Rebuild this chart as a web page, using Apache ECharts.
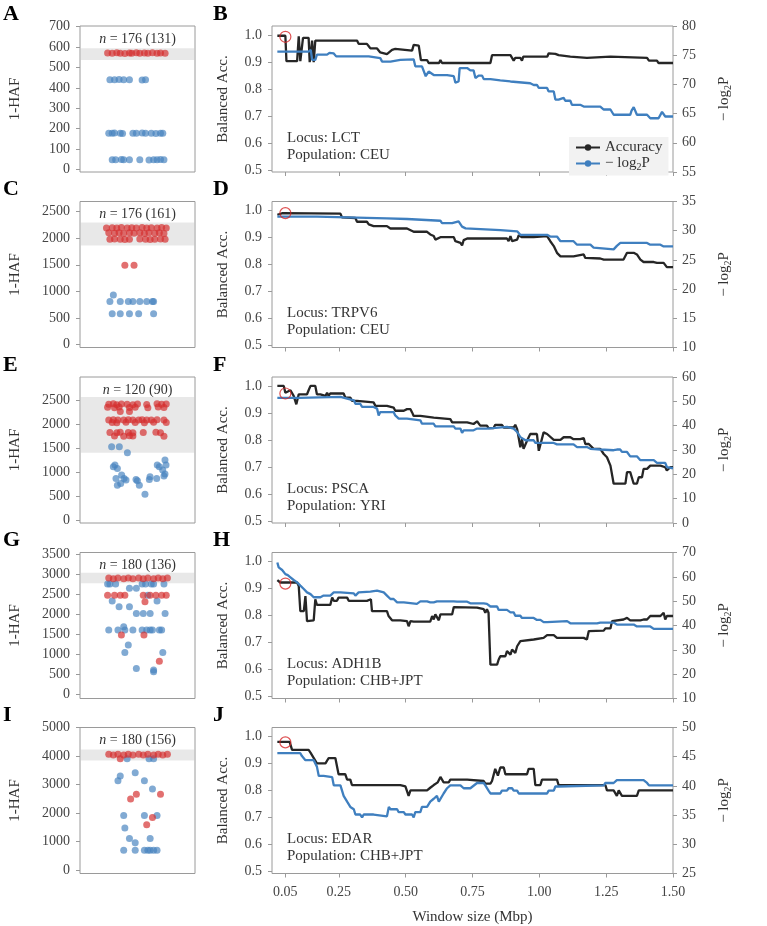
<!DOCTYPE html>
<html><head><meta charset="utf-8">
<script src="https://cdn.jsdelivr.net/npm/echarts@6/dist/echarts.min.js"></script>
<style>html,body{margin:0;padding:0;background:#fff}#c{width:767px;height:926px}</style>
</head><body><div id="c"></div><script>
// ---------------- DATA ----------------
const windowTicks = [0.05, 0.25, 0.5, 0.75, 1.0, 1.25, 1.5];
const accTicks = [0.5, 0.6, 0.7, 0.8, 0.9, 1.0];

const nlpTicksB = [55, 60, 65, 70, 75, 80];
const nlpTicksD = [10, 15, 20, 25, 30, 35];
const nlpTicksF = [0, 10, 20, 30, 40, 50, 60];
const nlpTicksH = [10, 20, 30, 40, 50, 60, 70];
const nlpTicksJ = [25, 30, 35, 40, 45, 50];

const hafTicksA = [0, 100, 200, 300, 400, 500, 600, 700];
const hafTicksC = [0, 500, 1000, 1500, 2000, 2500];
const hafTicksE = [0, 500, 1000, 1500, 2000, 2500];
const hafTicksG = [0, 500, 1000, 1500, 2000, 2500, 3000, 3500];
const hafTicksI = [0, 1000, 2000, 3000, 4000, 5000];

const loci = ['LCT', 'TRPV6', 'PSCA', 'ADH1B', 'EDAR'];
const pops = ['CEU', 'CEU', 'YRI', 'CHB+JPT', 'CHB+JPT'];
const sampleN = ['176 (131)', '176 (161)', '120 (90)', '180 (136)', '180 (156)'];

const bandA = [537, 594];
const bandC = [1862, 2293];
const bandE = [1410, 2570];
const bandG = [2768, 3032];
const bandI = [3845, 4226];

const bestLCT = [0.05, 0.993];
const bestTRPV6 = [0.05, 0.99];
const bestPSCA = [0.05, 0.972];
const bestADH1B = [0.05, 0.918];
const bestEDAR = [0.05, 0.978];

// Panel B: LCT
const accLCT = [[0.02,0.997],[0.05,0.997],[0.054,0.903],[0.094,0.903],[0.100,0.995],[0.106,0.903],[0.116,0.989],[0.137,0.989],[0.141,0.899],[0.150,0.979],[0.156,0.899],[0.162,0.979],[0.318,0.979],[0.324,0.967],[0.355,0.967],[0.362,0.958],[0.368,0.950],[0.393,0.950],[0.405,0.935],[0.430,0.929],[0.437,0.926],[0.449,0.945],[0.461,0.948],[0.468,0.942],[0.524,0.942],[0.530,0.963],[0.549,0.960],[0.557,0.907],[0.580,0.907],[0.586,0.896],[0.625,0.896],[0.630,0.907],[0.636,0.896],[0.817,0.896],[0.823,0.925],[0.892,0.925],[0.898,0.915],[0.904,0.905],[0.91,0.915],[0.929,0.915],[0.935,0.905],[0.94,0.92],[1.03,0.92],[1.035,0.932],[1.06,0.930],[1.065,0.936],[1.072,0.925],[1.116,0.920],[1.122,0.915],[1.178,0.915],[1.185,0.920],[1.266,0.920],[1.272,0.915],[1.403,0.915],[1.41,0.905],[1.44,0.905],[1.446,0.896],[1.5,0.896]];
const nlpLCT = [[0.02,75.6],[0.137,75.6],[0.145,75.9],[0.150,74.2],[0.162,74.2],[0.168,75.1],[0.206,75.1],[0.215,75.4],[0.231,75.3],[0.24,74.8],[0.362,74.8],[0.368,74.5],[0.405,74.5],[0.412,73.9],[0.443,73.9],[0.449,74.2],[0.480,74.2],[0.530,74.3],[0.536,73.1],[0.561,73.1],[0.567,72.8],[0.575,71.4],[0.580,71.4],[0.586,72.2],[0.592,72.0],[0.605,71.6],[0.655,71.6],[0.661,71.4],[0.680,71.4],[0.686,70.3],[0.698,70.5],[0.702,72.8],[0.730,72.8],[0.742,72.4],[0.754,72.4],[0.761,71.1],[0.773,71.5],[0.786,71.5],[0.792,70.9],[0.817,70.9],[0.823,70.7],[0.854,70.7],[0.892,70.5],[0.898,70.2],[0.966,70.2],[0.979,69.9],[0.991,69.9],[0.998,69.4],[1.029,69.4],[1.035,68.8],[1.054,68.8],[1.060,67.4],[1.072,67.4],[1.079,67.7],[1.091,67.7],[1.097,67.2],[1.116,67.2],[1.122,66.5],[1.153,66.5],[1.166,66.2],[1.228,66.2],[1.241,65.7],[1.266,65.7],[1.278,64.8],[1.340,64.8],[1.345,65.5],[1.353,66.1],[1.365,64.8],[1.403,64.8],[1.415,64.2],[1.446,64.2],[1.459,65.3],[1.471,64.5],[1.5,64.5]];

// Panel D: TRPV6
const accTRPV6 = [[0.02,0.984],[0.04,0.99],[0.256,0.988],[0.262,0.974],[0.312,0.972],[0.318,0.958],[0.355,0.958],[0.362,0.948],[0.380,0.942],[0.430,0.942],[0.443,0.933],[0.505,0.933],[0.530,0.921],[0.580,0.921],[0.592,0.911],[0.605,0.905],[0.611,0.892],[0.630,0.901],[0.680,0.901],[0.686,0.886],[0.705,0.880],[0.711,0.870],[0.717,0.890],[0.730,0.896],[0.879,0.896],[0.885,0.886],[0.892,0.905],[0.898,0.886],[0.904,0.880],[0.917,0.892],[0.923,0.908],[0.935,0.901],[0.979,0.901],[1.029,0.905],[1.041,0.886],[1.054,0.868],[1.066,0.843],[1.079,0.830],[1.128,0.830],[1.135,0.837],[1.166,0.837],[1.172,0.824],[1.178,0.822],[1.228,0.822],[1.241,0.818],[1.315,0.818],[1.328,0.843],[1.353,0.843],[1.365,0.837],[1.378,0.818],[1.390,0.809],[1.428,0.809],[1.440,0.806],[1.465,0.806],[1.477,0.790],[1.5,0.790]];
const nlpTRPV6 = [[0.02,32.4],[0.168,32.4],[0.175,32.1],[0.430,32.1],[0.437,32.0],[0.505,32.0],[0.511,31.7],[0.630,31.7],[0.636,31.3],[0.674,31.3],[0.680,31.6],[0.698,31.6],[0.711,30.7],[0.724,30.4],[0.730,30.1],[0.854,30.1],[0.86,29.9],[0.917,29.9],[0.929,29.3],[1.029,29.3],[1.041,29.0],[1.066,29.0],[1.079,28.2],[1.128,28.2],[1.141,27.6],[1.191,27.6],[1.203,27.1],[1.278,26.8],[1.290,27.4],[1.303,27.9],[1.403,27.9],[1.415,27.6],[1.453,27.6],[1.465,27.3],[1.5,27.3]];

// Panel F: PSCA
const accPSCA = [[0.02,1.0],[0.044,1.0],[0.05,0.975],[0.056,0.975],[0.069,0.984],[0.081,0.963],[0.091,0.932],[0.1,0.969],[0.131,0.969],[0.137,0.984],[0.144,1.0],[0.162,1.0],[0.168,0.969],[0.181,0.969],[0.187,0.963],[0.2,0.963],[0.206,0.975],[0.212,0.963],[0.218,0.972],[0.268,0.972],[0.274,0.957],[0.293,0.957],[0.299,0.945],[0.318,0.945],[0.324,0.939],[0.380,0.939],[0.387,0.926],[0.430,0.926],[0.437,0.920],[0.455,0.920],[0.461,0.908],[0.493,0.908],[0.505,0.914],[0.518,0.914],[0.524,0.902],[0.530,0.889],[0.555,0.889],[0.561,0.883],[0.605,0.883],[0.611,0.877],[0.667,0.877],[0.674,0.865],[0.730,0.865],[0.736,0.859],[0.754,0.859],[0.767,0.869],[0.779,0.853],[0.804,0.853],[0.810,0.844],[0.829,0.844],[0.835,0.856],[0.860,0.856],[0.867,0.846],[0.904,0.846],[0.910,0.856],[0.917,0.840],[0.929,0.773],[0.935,0.803],[0.941,0.767],[0.954,0.797],[0.966,0.822],[0.991,0.822],[0.998,0.760],[1.016,0.828],[1.029,0.822],[1.054,0.80],[1.079,0.80],[1.091,0.810],[1.116,0.810],[1.128,0.803],[1.153,0.803],[1.166,0.807],[1.172,0.785],[1.185,0.785],[1.191,0.791],[1.203,0.767],[1.228,0.767],[1.241,0.748],[1.253,0.736],[1.266,0.705],[1.278,0.638],[1.322,0.638],[1.328,0.681],[1.340,0.681],[1.353,0.638],[1.365,0.638],[1.372,0.662],[1.384,0.662],[1.390,0.693],[1.403,0.693],[1.415,0.705],[1.453,0.705],[1.459,0.699],[1.471,0.699],[1.477,0.687],[1.490,0.699],[1.5,0.699]];
const nlpPSCA = [[0.02,51.4],[0.1,51.4],[0.106,51.8],[0.256,51.8],[0.281,51.1],[0.287,50.4],[0.306,50.4],[0.312,49.0],[0.330,49.0],[0.337,47.7],[0.380,47.7],[0.393,47.0],[0.399,44.2],[0.405,45.6],[0.455,45.6],[0.461,44.2],[0.468,44.2],[0.474,42.9],[0.505,42.9],[0.511,42.2],[0.555,42.2],[0.561,40.8],[0.605,40.8],[0.611,39.7],[0.680,39.7],[0.686,38.8],[0.705,38.8],[0.711,37.0],[0.717,38.1],[0.754,38.1],[0.761,37.4],[0.767,38.8],[0.804,38.8],[0.810,39.5],[0.879,39.5],[0.885,38.8],[0.904,38.8],[0.917,37.4],[0.929,35.3],[0.948,34.0],[0.979,34.0],[0.985,32.9],[1.054,32.9],[1.066,32.3],[1.128,32.3],[1.141,31.2],[1.178,31.2],[1.191,30.5],[1.228,30.2],[1.278,29.9],[1.290,30.2],[1.303,30.2],[1.309,29.2],[1.328,29.2],[1.340,27.4],[1.365,27.4],[1.378,25.8],[1.428,25.8],[1.440,24.7],[1.471,24.7],[1.477,23.0],[1.5,22.5]];

// Panel H: ADH1B
const accADH1B = [[0.02,0.931],[0.031,0.922],[0.094,0.922],[0.100,0.909],[0.106,0.816],[0.119,0.816],[0.125,0.872],[0.131,0.779],[0.156,0.782],[0.162,0.860],[0.168,0.839],[0.218,0.839],[0.225,0.866],[0.231,0.854],[0.243,0.854],[0.249,0.866],[0.281,0.866],[0.287,0.854],[0.355,0.854],[0.362,0.851],[0.370,0.860],[0.374,0.816],[0.380,0.810],[0.393,0.816],[0.430,0.816],[0.436,0.798],[0.443,0.804],[0.449,0.782],[0.480,0.782],[0.505,0.779],[0.511,0.760],[0.518,0.779],[0.530,0.777],[0.592,0.777],[0.599,0.798],[0.605,0.785],[0.611,0.804],[0.624,0.782],[0.630,0.804],[0.674,0.804],[0.680,0.831],[0.767,0.829],[0.773,0.823],[0.792,0.823],[0.798,0.810],[0.804,0.823],[0.810,0.810],[0.817,0.618],[0.842,0.618],[0.848,0.637],[0.854,0.649],[0.873,0.649],[0.879,0.668],[0.892,0.655],[0.898,0.674],[0.910,0.661],[0.917,0.686],[0.929,0.705],[0.935,0.711],[0.979,0.711],[0.985,0.717],[1.016,0.717],[1.029,0.727],[1.054,0.727],[1.066,0.717],[1.091,0.717],[1.097,0.711],[1.104,0.717],[1.166,0.717],[1.178,0.711],[1.185,0.742],[1.241,0.744],[1.247,0.752],[1.266,0.752],[1.272,0.779],[1.315,0.785],[1.328,0.791],[1.340,0.782],[1.378,0.782],[1.390,0.785],[1.403,0.785],[1.415,0.798],[1.453,0.798],[1.465,0.810],[1.471,0.785],[1.477,0.798],[1.5,0.798]];
const nlpADH1B = [[0.02,65.9],[0.025,63.9],[0.038,62.8],[0.05,61.1],[0.059,60.7],[0.065,61.5],[0.069,59.8],[0.081,58.7],[0.094,57.7],[0.106,56.4],[0.119,55.0],[0.131,53.6],[0.144,52.9],[0.156,51.6],[0.181,51.6],[0.193,52.3],[0.218,52.3],[0.231,53.6],[0.256,53.6],[0.262,53.2],[0.306,53.2],[0.312,52.3],[0.318,51.6],[0.324,53.6],[0.330,53.9],[0.368,53.9],[0.374,54.3],[0.393,54.3],[0.399,53.6],[0.418,53.6],[0.430,52.3],[0.443,50.9],[0.455,50.9],[0.468,49.5],[0.493,49.5],[0.499,48.9],[0.542,48.9],[0.555,49.9],[0.580,49.9],[0.592,49.5],[0.605,49.5],[0.617,49.9],[0.680,49.9],[0.692,49.8],[0.730,49.8],[0.742,49.1],[0.792,49.1],[0.804,48.9],[0.817,47.8],[0.842,47.8],[0.848,46.4],[0.879,46.4],[0.892,45.4],[0.904,45.4],[0.910,44.0],[0.929,44.0],[0.935,43.1],[0.979,43.1],[0.991,42.3],[1.004,42.3],[1.016,41.4],[1.029,41.4],[1.035,41.8],[1.104,41.8],[1.116,40.9],[1.216,40.9],[1.228,41.2],[1.278,41.2],[1.290,40.4],[1.353,40.4],[1.365,39.6],[1.415,39.6],[1.428,38.6],[1.5,38.6]];

// Panel J: EDAR
const accEDAR = [[0.02,0.98],[0.066,0.98],[0.075,0.95],[0.137,0.95],[0.144,0.94],[0.168,0.90],[0.2,0.90],[0.212,0.92],[0.237,0.92],[0.249,0.86],[0.274,0.86],[0.281,0.84],[0.293,0.84],[0.299,0.82],[0.48,0.82],[0.499,0.815],[0.505,0.82],[0.511,0.78],[0.518,0.80],[0.580,0.80],[0.592,0.81],[0.605,0.82],[0.620,0.83],[0.630,0.85],[0.642,0.83],[0.661,0.83],[0.667,0.84],[0.730,0.84],[0.736,0.835],[0.792,0.835],[0.798,0.825],[0.817,0.825],[0.823,0.835],[0.835,0.88],[0.845,0.855],[0.854,0.885],[0.867,0.885],[0.873,0.86],[0.954,0.86],[0.960,0.88],[0.979,0.88],[0.985,0.82],[1.004,0.82],[1.010,0.84],[1.066,0.84],[1.072,0.82],[1.247,0.82],[1.253,0.80],[1.278,0.80],[1.290,0.78],[1.297,0.80],[1.309,0.78],[1.365,0.78],[1.372,0.80],[1.5,0.80]];
const nlpEDAR = [[0.02,45.6],[0.106,45.6],[0.112,45.1],[0.125,44.4],[0.156,44.4],[0.168,43.3],[0.175,41.7],[0.193,41.7],[0.2,41.5],[0.225,41.5],[0.231,40.1],[0.256,40.1],[0.262,39.2],[0.268,38.3],[0.281,37.3],[0.293,36.4],[0.306,36.0],[0.312,35.1],[0.330,35.1],[0.337,34.6],[0.343,35.1],[0.380,35.1],[0.387,34.8],[0.430,34.8],[0.437,36.4],[0.443,36.0],[0.468,36.0],[0.474,35.5],[0.493,35.5],[0.499,35.1],[0.524,35.1],[0.530,34.6],[0.536,35.5],[0.555,35.5],[0.561,36.4],[0.580,36.4],[0.592,37.3],[0.605,37.8],[0.617,38.3],[0.624,37.3],[0.642,38.7],[0.655,39.6],[0.667,40.1],[0.705,40.1],[0.717,39.6],[0.742,39.6],[0.767,40.5],[0.792,40.5],[0.798,40.1],[0.804,40.1],[0.810,39.2],[0.817,38.7],[0.854,38.7],[0.860,39.2],[0.879,39.2],[0.885,39.6],[0.898,39.6],[0.904,39.2],[0.917,39.2],[0.923,38.7],[0.973,38.7],[0.979,38.5],[0.991,38.7],[1.029,38.7],[1.035,39.2],[1.054,39.2],[1.060,39.9],[1.072,39.9],[1.079,40.1],[1.241,40.1],[1.247,40.5],[1.278,40.5],[1.290,41.0],[1.390,41.0],[1.403,40.5],[1.410,40.1],[1.5,40.1]];

// Strip plots: [jitter offset from category centre, 1-HAF]
const hafRedA = [[-0.26,571],[-0.22,569],[-0.18,572],[-0.15,570],[-0.11,568],[-0.07,571],[-0.05,570],[-0.01,572],[0.02,569],[0.06,571],[0.09,570],[0.13,572],[0.17,569],[0.20,571],[0.24,570]];
const hafBlueA = [[-0.24,440],[-0.20,440],[-0.16,441],[-0.12,440],[-0.07,440],[0.04,439],[0.07,440],[-0.25,178],[-0.22,178],[-0.20,179],[-0.15,178],[-0.13,177],[-0.04,178],[-0.01,178],[0.04,179],[0.07,178],[0.12,178],[0.16,177],[0.20,178],[0.22,178],[-0.22,48],[-0.19,48],[-0.14,49],[-0.12,48],[-0.07,48],[0.02,48],[0.10,47],[0.14,48],[0.17,48],[0.20,49],[0.23,48]];
const hafRedC = [[-0.27,2190],[-0.22,2195],[-0.18,2190],[-0.14,2200],[-0.09,2190],[-0.05,2195],[-0.01,2190],[0.04,2200],[0.08,2190],[0.12,2195],[0.17,2190],[0.21,2200],[0.25,2190],[-0.25,2100],[-0.20,2095],[-0.16,2100],[-0.12,2090],[-0.07,2100],[-0.03,2095],[0.02,2100],[0.06,2090],[0.10,2100],[0.15,2095],[0.19,2100],[0.23,2090],[-0.24,1980],[-0.20,1985],[-0.15,1980],[-0.11,1975],[-0.07,1980],[0.02,1985],[0.07,1980],[0.11,1975],[0.15,1980],[0.20,1985],[0.24,1980],[-0.11,1490],[-0.03,1490]];
const hafBlueC = [[-0.21,930],[-0.24,810],[-0.15,810],[-0.08,810],[-0.04,810],[0.02,810],[0.08,810],[0.13,810],[0.14,810],[-0.22,580],[-0.15,580],[-0.07,580],[0.01,580],[0.14,580]];
const hafRedE = [[-0.25,2420],[-0.21,2430],[-0.18,2410],[-0.14,2425],[-0.09,2420],[-0.04,2410],[0.00,2425],[0.08,2415],[0.17,2430],[0.21,2420],[0.25,2425],[-0.26,2360],[-0.20,2350],[-0.16,2365],[-0.07,2355],[-0.02,2360],[0.09,2350],[0.18,2365],[0.23,2355],[-0.15,2270],[-0.07,2270],[-0.25,2095],[-0.21,2100],[-0.17,2090],[-0.12,2095],[-0.08,2100],[-0.04,2090],[0.01,2095],[0.04,2100],[0.08,2090],[0.12,2095],[0.17,2100],[0.23,2090],[-0.22,2040],[-0.18,2035],[-0.10,2045],[-0.02,2040],[0.06,2035],[0.14,2045],[0.25,2040],[-0.24,1830],[-0.18,1825],[-0.15,1835],[-0.08,1830],[-0.04,1825],[0.05,1830],[0.16,1835],[0.20,1825],[-0.20,1760],[-0.12,1755],[-0.07,1765],[-0.04,1760],[0.23,1755]];
const hafBlueE = [[-0.225,1536],[-0.158,1536],[-0.088,1410],[-0.21,1117],[-0.196,1152],[-0.175,1082],[-0.187,873],[-0.138,943],[-0.117,873],[-0.10,838],[-0.175,733],[-0.146,768],[-0.013,852],[-0.001,824],[0.016,733],[0.065,545],[0.103,852],[0.109,908],[0.172,1152],[0.19,1117],[0.219,1047],[0.23,922],[0.239,1257],[0.248,1152],[0.167,873],[0.239,964]];
const hafRedG = [[-0.25,2900],[-0.21,2880],[-0.17,2900],[-0.12,2880],[-0.08,2900],[-0.04,2880],[0.01,2900],[0.05,2880],[0.09,2900],[0.14,2880],[0.18,2900],[0.22,2880],[0.26,2900],[-0.26,2469],[-0.20,2469],[-0.15,2469],[-0.11,2469],[0.05,2469],[0.11,2469],[0.16,2469],[0.21,2469],[0.25,2469],[0.065,2311],[-0.14,1480],[0.056,1480],[0.19,831]];
const hafBlueG = [[-0.26,2752],[-0.24,2752],[-0.19,2752],[0.04,2752],[0.07,2752],[0.12,2752],[0.14,2752],[0.23,2752],[-0.07,2644],[-0.01,2644],[0.09,2469],[-0.22,2328],[0.17,2328],[-0.16,2187],[-0.07,2187],[-0.01,2020],[0.05,2020],[0.11,2020],[0.24,2020],[-0.25,1605],[-0.17,1605],[-0.11,1605],[-0.04,1605],[0.04,1605],[0.08,1605],[0.11,1605],[0.13,1605],[0.19,1605],[0.21,1605],[-0.12,1688],[-0.08,1230],[-0.11,1048],[0.22,1048],[-0.01,648],[0.14,607],[0.14,565]];
const hafRedI = [[-0.25,4060],[-0.21,4040],[-0.17,4060],[-0.12,4040],[-0.08,4060],[-0.04,4040],[0.01,4060],[0.05,4040],[0.09,4060],[0.14,4040],[0.18,4060],[0.22,4040],[0.26,4060],[-0.15,3903],[-0.01,2656],[0.20,2656],[-0.06,2494],[0.13,1848],[0.08,1594]];
const hafBlueI = [[-0.09,3903],[0.10,3903],[0.14,3903],[-0.02,3418],[-0.15,3302],[-0.17,3129],[0.06,3129],[0.13,2841],[-0.12,1917],[0.06,1917],[0.17,1917],[-0.11,1478],[-0.07,1109],[0.11,1109],[-0.02,958],[-0.12,693],[-0.02,693],[0.06,693],[0.09,693],[0.11,693],[0.14,693],[0.17,693]];

// ---------------- LAYOUT / STYLE ----------------
const FONT = "'Liberation Serif', 'DejaVu Serif', serif";
const TXT = '#333';
const TICKC = '#444';
const SPINE = '#9a9a9a';
const BLACK = '#262626';
const BLUE = '#3f7fbf';
const RED_PT = 'rgba(212,46,46,0.85)';
const BLUE_PT = 'rgba(70,130,190,0.85)';
const TOPS = [26, 201.5, 377, 552.5, 727.5];
const H = 146;
const CENTRE = 0.5; // strip category centre on a 0..1 axis

const panels = [
  {L:'A', R:'B', hafMin:-12, hafMax:703, hafTicks:hafTicksA, band:bandA, red:hafRedA, blue:hafBlueA, acc:accLCT, nlp:nlpLCT, nlpMin:55, nlpMax:80, nlpTicks:nlpTicksB, best:bestLCT},
  {L:'C', R:'D', hafMin:-56, hafMax:2690, hafTicks:hafTicksC, band:bandC, red:hafRedC, blue:hafBlueC, acc:accTRPV6, nlp:nlpTRPV6, nlpMin:10, nlpMax:35, nlpTicks:nlpTicksD, best:bestTRPV6},
  {L:'E', R:'F', hafMin:-57, hafMax:2990, hafTicks:hafTicksE, band:bandE, red:hafRedE, blue:hafBlueE, acc:accPSCA, nlp:nlpPSCA, nlpMin:0, nlpMax:60, nlpTicks:nlpTicksF, best:bestPSCA},
  {L:'G', R:'H', hafMin:-100, hafMax:3537, hafTicks:hafTicksG, band:bandG, red:hafRedG, blue:hafBlueG, acc:accADH1B, nlp:nlpADH1B, nlpMin:10, nlpMax:70, nlpTicks:nlpTicksH, best:bestADH1B},
  {L:'I', R:'J', hafMin:-118, hafMax:5000, hafTicks:hafTicksI, band:bandI, red:hafRedI, blue:hafBlueI, acc:accEDAR, nlp:nlpEDAR, nlpMin:25, nlpMax:50, nlpTicks:nlpTicksJ, best:bestEDAR}
];

const tickLabel = {color: TICKC, fontFamily: FONT, fontSize: 14};
const nameStyle = {color: TXT, fontFamily: FONT, fontSize: 15};
const subRich = {
  a: {fontFamily: FONT, fontSize: 15, color: TXT, lineHeight: 18},
  s: {fontFamily: FONT, fontSize: 10, color: TXT, lineHeight: 8, verticalAlign: 'bottom'}
};
const tick = (vals) => ({show: true, inside: false, customValues: vals, length: 4, lineStyle: {color: SPINE}});
const strip = (arr) => arr.map(d => [CENTRE + d[0], d[1]]);

const grid = [], xAxis = [], yAxis = [], series = [], graphic = [];
panels.forEach((p, i) => {
  const top = TOPS[i];
  const last = i === panels.length - 1;
  grid.push({left: 80, top: top, width: 115, height: H, show: true, borderColor: SPINE, borderWidth: 1, backgroundColor: 'transparent'});
  grid.push({left: 272, top: top, width: 401, height: H, show: true, borderColor: SPINE, borderWidth: 1, backgroundColor: 'transparent'});
  xAxis.push({gridIndex: 2*i, type: 'value', min: 0, max: 1, show: false});
  const wx = {gridIndex: 2*i+1, type: 'value', min: 0, max: 1.5,
    axisLine: {show: false}, splitLine: {show: false},
    axisTick: tick(windowTicks),
    axisLabel: {customValues: windowTicks, formatter: v => v.toFixed(2), margin: 12, ...tickLabel,
      color: last ? TICKC : 'rgba(0,0,0,0)'}};
  if (last) Object.assign(wx, {name: 'Window size (Mbp)', nameLocation: 'middle', nameGap: 36, nameTextStyle: nameStyle});
  xAxis.push(wx);
  yAxis.push({gridIndex: 2*i, type: 'value', min: p.hafMin, max: p.hafMax,
    axisLine: {show: false}, splitLine: {show: false},
    axisTick: tick(p.hafTicks),
    axisLabel: {customValues: p.hafTicks, formatter: v => String(Math.round(v)), margin: 10, ...tickLabel},
    name: '1-HAF', nameLocation: 'middle', nameGap: 57, nameRotate: 90, nameTextStyle: nameStyle});
  yAxis.push({gridIndex: 2*i+1, type: 'value', min: 0.4926, max: 1.033,
    axisLine: {show: false}, splitLine: {show: false},
    axisTick: tick(accTicks),
    axisLabel: {customValues: accTicks, formatter: v => v.toFixed(1), margin: 10, ...tickLabel},
    name: 'Balanced Acc.', nameLocation: 'middle', nameGap: 41, nameRotate: 90, nameTextStyle: nameStyle});
  yAxis.push({gridIndex: 2*i+1, type: 'value', min: p.nlpMin, max: p.nlpMax, position: 'right',
    axisLine: {show: false}, splitLine: {show: false},
    axisTick: tick(p.nlpTicks),
    axisLabel: {customValues: p.nlpTicks, formatter: v => String(Math.round(v)), margin: 9, ...tickLabel},
    name: '{a|− log}{s|2}{a|P}', nameLocation: 'middle', nameGap: 42, nameRotate: 90,
    nameTextStyle: {...nameStyle, rich: subRich}});

  // grey band: area between band bottom and band top across the strip
  series.push({type: 'line', xAxisIndex: 2*i, yAxisIndex: 3*i, data: [[0, p.band[1]], [1, p.band[1]]],
    showSymbol: false, silent: true, lineStyle: {width: 0, opacity: 0},
    areaStyle: {origin: p.band[0], color: 'rgba(200,200,200,0.6)'}, z: 1});
  series.push({type: 'scatter', name: 'blue' + i, xAxisIndex: 2*i, yAxisIndex: 3*i, data: strip(p.blue), symbolSize: 7, itemStyle: {color: BLUE_PT}, z: 2});
  series.push({type: 'scatter', name: 'red' + i, xAxisIndex: 2*i, yAxisIndex: 3*i, data: strip(p.red), symbolSize: 7, itemStyle: {color: RED_PT}, z: 3});

  series.push({type: 'line', name: i === 0 ? 'Accuracy' : 'acc' + i, xAxisIndex: 2*i+1, yAxisIndex: 3*i+1, data: p.acc,
    showSymbol: false, symbol: 'circle', symbolSize: 5, lineStyle: {width: 2.3, color: BLACK}, itemStyle: {color: BLACK}, z: 2});
  series.push({type: 'line', name: i === 0 ? 'NLP' : 'nlp' + i, xAxisIndex: 2*i+1, yAxisIndex: 3*i+2, data: p.nlp,
    showSymbol: false, symbol: 'circle', symbolSize: 5, lineStyle: {width: 2.3, color: BLUE}, itemStyle: {color: BLUE}, z: 3});
  series.push({type: 'scatter', xAxisIndex: 2*i+1, yAxisIndex: 3*i+1, data: [p.best], symbol: 'circle', symbolSize: 11,
    itemStyle: {color: 'rgba(0,0,0,0)', borderColor: '#d62728', borderWidth: 1.2}, z: 5});

  const ly = 14.5 + 175.3 * i;
  graphic.push({type: 'text', x: 3, y: ly, style: {text: p.L, font: 'bold 22px ' + FONT, fill: '#000', verticalAlign: 'middle', textVerticalAlign: 'middle'}});
  graphic.push({type: 'text', x: 213, y: ly, style: {text: p.R, font: 'bold 22px ' + FONT, fill: '#000', verticalAlign: 'middle', textVerticalAlign: 'middle'}});
  graphic.push({type: 'text', x: 137.5, y: top + 13, style: {
    text: '{i|n} = ' + sampleN[i], font: '14px ' + FONT, fill: TXT, align: 'center', textAlign: 'center', verticalAlign: 'middle', textVerticalAlign: 'middle',
    rich: {i: {fontStyle: 'italic', fontFamily: FONT, fontSize: 14, fill: TXT, color: TXT}}}});
  graphic.push({type: 'text', x: 287, y: top + 112, style: {text: 'Locus: ' + loci[i], font: '15px ' + FONT, fill: TXT, verticalAlign: 'middle', textVerticalAlign: 'middle'}});
  graphic.push({type: 'text', x: 287, y: top + 129, style: {text: 'Population: ' + pops[i], font: '15px ' + FONT, fill: TXT, verticalAlign: 'middle', textVerticalAlign: 'middle'}});
});

const option = {
  animation: false,
  backgroundColor: '#fff',
  grid, xAxis, yAxis, series, graphic,
  legend: {
    data: ['Accuracy', 'NLP'], orient: 'vertical', left: 569, top: 137,
    backgroundColor: '#f2f2f2', padding: [3, 6, 3, 6], itemGap: 1, itemWidth: 24, itemHeight: 8,
    selectedMode: false,
    formatter: n => n === 'Accuracy' ? '{a|Accuracy}' : '{a|− log}{s|2}{a|P}',
    textStyle: {fontFamily: FONT, fontSize: 15, color: TXT, rich: subRich}
  }
};
const chart = echarts.init(document.getElementById('c'), null, {renderer: 'canvas'});
chart.setOption(option);
</script></body></html>
